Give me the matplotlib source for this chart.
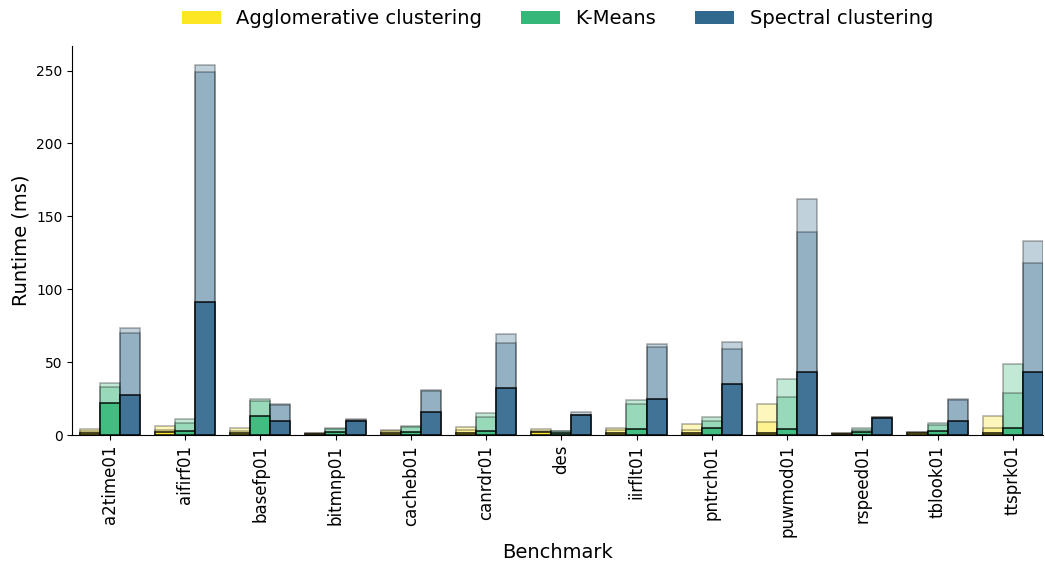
import numpy as np
import matplotlib
matplotlib.use("Agg")
import matplotlib.pyplot as plt
from matplotlib.patches import Patch

benchmarks = ['a2time01', 'aifirf01', 'basefp01', 'bitmnp01', 'cacheb01', 'canrdr01',
              'des', 'iirflt01', 'pntrch01', 'puwmod01', 'rspeed01', 'tblook01', 'ttsprk01']
methods = ['Agglomerative clustering', 'K-Means', 'Spectral clustering']
colors = ['#fde725', '#35b779', '#31688e']

# runtime (ms) per benchmark: minimum, median, maximum over runs
agg_min = [1.2, 1.8, 1.5, 1.0, 1.3, 1.6, 1.8, 1.1, 1.6, 1.2, 1.0, 1.2, 1.6]
agg_med = [2.5, 3.4, 3.0, 1.3, 2.5, 3.5, 3.0, 3.4, 3.4, 9.0, 1.3, 1.8, 4.6]
agg_max = [3.9, 6.2, 4.6, 1.6, 3.4, 5.7, 3.9, 5.0, 7.6, 21.3, 1.6, 2.3, 13.0]

km_min = [22.2, 2.7, 13.0, 2.3, 1.8, 2.7, 1.6, 3.9, 4.6, 3.9, 2.3, 3.0, 4.6]
km_med = [33.2, 8.0, 23.6, 4.0, 5.3, 12.1, 2.5, 21.0, 9.8, 25.9, 3.8, 6.9, 29.0]
km_max = [35.5, 10.8, 24.5, 4.6, 6.2, 14.9, 3.0, 24.0, 12.1, 38.5, 4.6, 8.0, 48.8]

sc_min = [27.5, 91.0, 9.8, 9.6, 15.6, 32.5, 13.5, 24.7, 35.0, 43.5, 11.9, 9.8, 43.0]
sc_med = [70.3, 249.0, 20.5, 10.3, 30.2, 63.4, 13.7, 60.7, 59.0, 139.2, 12.2, 23.8, 118.3]
sc_max = [73.3, 254.0, 21.0, 10.8, 30.9, 69.4, 15.6, 62.3, 63.7, 161.9, 12.6, 24.5, 132.8]

runs = [(agg_min, agg_med, agg_max), (km_min, km_med, km_max), (sc_min, sc_med, sc_max)]

fig = plt.figure(figsize=(10.45, 5.65), dpi=100)
ax = fig.add_axes([0.069, 0.230, 0.929, 0.689])

x = np.arange(len(benchmarks))
width = 0.8 / 3

for i, (lo, med, hi) in enumerate(runs):
    pos = x + (i - 1) * width
    ax.bar(pos, hi, width, color=colors[i], alpha=0.3, edgecolor='black', linewidth=1.2)
    ax.bar(pos, med, width, color=colors[i], alpha=0.3, edgecolor='black', linewidth=1.2)
    ax.bar(pos, lo, width, color=colors[i], alpha=0.85, edgecolor='black', linewidth=1.2)

ax.set_xlim(-0.5, 12.4)
ax.set_ylim(0, 267)
ax.set_xticks(x)
ax.set_xticklabels(benchmarks, rotation=90, fontsize=12)
ax.tick_params(axis='y', labelsize=10)
ax.set_xlabel('Benchmark', fontsize=14)
ax.set_ylabel('Runtime (ms)', fontsize=14)
ax.spines['top'].set_visible(False)
ax.spines['right'].set_visible(False)

handles = [Patch(facecolor=c, label=m) for c, m in zip(colors, methods)]
ax.legend(handles=handles, loc='lower center', bbox_to_anchor=(0.5, 1.0), ncol=3,
          frameon=False, fontsize=14)

fig.savefig('out.png', dpi=100)
